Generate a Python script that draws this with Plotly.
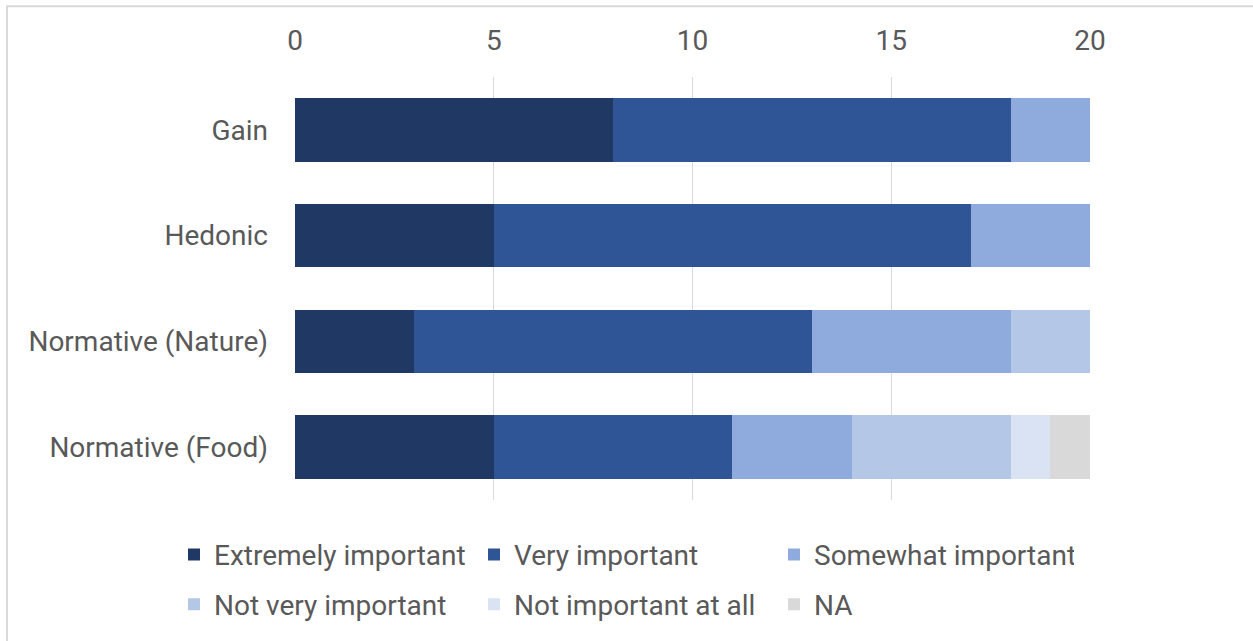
import plotly.graph_objects as go

categories = ["Gain", "Hedonic", "Normative (Nature)", "Normative (Food)"]
series_names = ["Extremely important", "Very important", "Somewhat important",
                "Not very important", "Not important at all", "NA"]
extremely = [8, 5, 3, 5]
very = [10, 12, 10, 6]
somewhat = [2, 3, 5, 3]
not_very = [0, 0, 2, 4]
not_at_all = [0, 0, 0, 1]
na = [0, 0, 0, 1]
x_ticks = [0, 5, 10, 15, 20]

colors = ["#203864", "#2F5597", "#8FAADC", "#B4C7E7", "#DAE3F3", "#D9D9D9"]
values = [extremely, very, somewhat, not_very, not_at_all, na]

W, H = 1253, 641
L, R, T, B = 295, 163, 77, 139
FONT = "Roboto"
FS = 28

fig = go.Figure()
for i, (name, vals, col) in enumerate(zip(series_names, values, colors)):
    fig.add_trace(go.Bar(
        y=categories, x=vals, name=name, orientation="h",
        marker=dict(color=col, line=dict(width=0)),
        legend="legend" if i < 3 else "legend2",
    ))

pw = W - L - R
ph = H - T - B
def px(xp):
    return (xp - L) / pw
def py(yp):
    return 1 - (yp - T) / ph

fig.update_layout(
    width=W, height=H,
    margin=dict(l=L, r=R, t=T, b=B),
    barmode="stack", bargap=0.4,
    paper_bgcolor="white", plot_bgcolor="white",
    font=dict(family=FONT, color="#595959", size=FS),
    xaxis=dict(side="top", range=[0, 20], tickvals=x_ticks, showgrid=True,
               gridcolor="#D9D9D9", gridwidth=1, zeroline=False, showline=False,
               ticks="", ticklabelstandoff=20, tickfont=dict(size=FS)),
    yaxis=dict(categoryorder="array", categoryarray=categories[::-1],
               showgrid=False, zeroline=False, showline=False, ticks="",
               ticklabelstandoff=26, tickfont=dict(size=FS)),
    legend=dict(orientation="h", x=px(174), y=py(557), xanchor="left", yanchor="middle",
                entrywidth=255, entrywidthmode="pixels", font=dict(size=FS),
                traceorder="normal"),
    legend2=dict(orientation="h", x=px(174), y=py(607), xanchor="left", yanchor="middle",
                 entrywidth=255, entrywidthmode="pixels", font=dict(size=FS),
                 traceorder="normal"),
    shapes=[dict(type="rect", xref="paper", yref="paper",
                 x0=px(7), x1=px(1262), y0=py(6), y1=py(650),
                 line=dict(color="#D9D9D9", width=2), layer="below")],
)

fig.write_html("out.html")
